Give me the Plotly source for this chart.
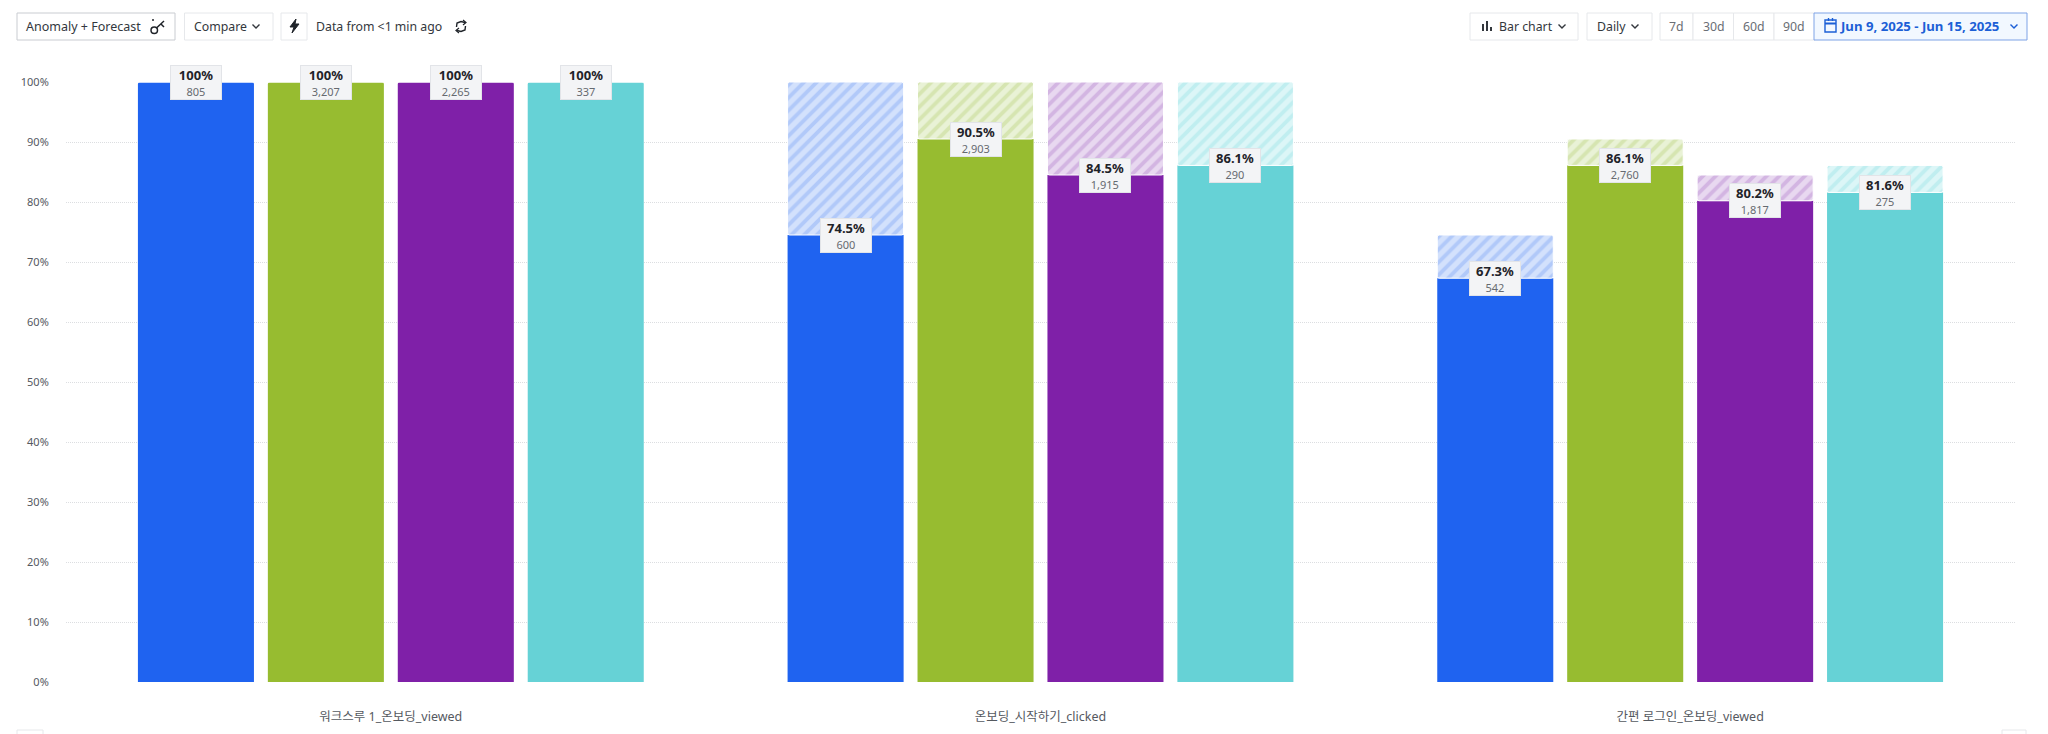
import plotly.graph_objects as go

# Funnel steps and the four compared segments
steps = ['워크스루 1_온보딩_viewed', '온보딩_시작하기_clicked', '간편 로그인_온보딩_viewed']
series_names = ['Segment 1', 'Segment 2', 'Segment 3', 'Segment 4']
pct_s1 = [100, 74.5, 67.3]
pct_s2 = [100, 90.5, 86.1]
pct_s3 = [100, 84.5, 80.2]
pct_s4 = [100, 86.1, 81.6]
cnt_s1 = [805, 600, 542]
cnt_s2 = [3207, 2903, 2760]
cnt_s3 = [2265, 1915, 1817]
cnt_s4 = [337, 290, 275]
y_ticks = [0, 10, 20, 30, 40, 50, 60, 70, 80, 90, 100]

pcts = [pct_s1, pct_s2, pct_s3, pct_s4]
cnts = [cnt_s1, cnt_s2, cnt_s3, cnt_s4]
colors = ['#1f63f0', '#97bc30', '#7f20a8', '#66d2d6']
hatch_bg = ['#d3e1fc', '#e9f2d6', '#e8d8f0', '#dcf6f7']
hatch_fg = ['#b1c9f9', '#d6e5b1', '#d3b5e2', '#c0eef0']

FONT = 'Noto Sans, Noto Sans CJK KR, sans-serif'

# plot area in window pixels, used for the toolbar only
L, R, T, B = 66, 2015, 82, 682


def px(x):
    return (x - L) / (R - L)


def py(y):
    return (B - y) / (B - T)


def path(points, close=False):
    d = 'M' + ' L'.join(f'{px(x):.5f},{py(y):.5f}' for x, y in points)
    return d + (' Z' if close else '')


fig = go.Figure()

for s in range(4):
    prev = [pcts[s][0]] + pcts[s][:-1]
    fig.add_trace(go.Bar(
        x=[0, 1, 2], y=pcts[s], name=series_names[s], offsetgroup=str(s),
        marker=dict(color=colors[s], line=dict(width=0)),
        showlegend=False,
    ))
    fig.add_trace(go.Bar(
        x=[0, 1, 2], y=[p - c for p, c in zip(prev, pcts[s])], base=pcts[s],
        name=series_names[s] + ' drop-off', offsetgroup=str(s),
        marker=dict(color=hatch_bg[s], line=dict(width=1, color='#ffffff'),
                    pattern=dict(shape='/', bgcolor=hatch_bg[s], fgcolor=hatch_fg[s],
                                 size=9, solidity=0.42, fillmode='replace')),
        showlegend=False,
    ))
    # value labels sitting on the top of each solid bar
    for g in range(3):
        pct = pcts[s][g]
        pct_text = f'{pct:g}%' if pct == 100 else f'{pct:.1f}%'
        fig.add_annotation(
            x=g + (s - 1.5) * 0.2, y=pct, xref='x', yref='y', showarrow=False,
            text=f"<b>{pct_text}</b><br><span style='font-size:11px;color:#666a70'>{cnts[s][g]:,}</span>",
            font=dict(family=FONT, size=13, color='#1f2329'),
            bgcolor='#f3f4f6', bordercolor='#e2e4e8', borderwidth=1,
            width=50, height=33, borderpad=0, align='center', valign='middle',
        )

shapes = []
notes = []


def button(x0, x1, fill='#ffffff', line='#e6e8eb', y0=13, y1=40):
    shapes.append(dict(
        type='rect', xref='paper', yref='paper', x0=px(x0), x1=px(x1), y0=py(y1), y1=py(y0),
        fillcolor=fill, line=dict(color=line, width=1), layer='above',
    ))


def label(x, text, color='#33373d', size=12.3, weight=None, anchor='left', y=26.5):
    notes.append(dict(
        x=px(x), y=py(y), xref='paper', yref='paper', text=f'<b>{text}</b>' if weight else text,
        showarrow=False, xanchor=anchor, yanchor='middle',
        font=dict(family=FONT, size=size, color=color),
    ))


def stroke(points, color='#33373d', width=1.4, close=False, fill=None):
    shapes.append(dict(
        type='path', xref='paper', yref='paper', path=path(points, close),
        line=dict(color=color, width=width), fillcolor=fill, layer='above',
    ))


def chevron(x, y=26, color='#33373d'):
    stroke([(x - 3.5, y - 1.5), (x, y + 2), (x + 3.5, y - 1.5)], color=color)


# left side of the toolbar
button(17, 175, line='#c9ccd1')
label(24, 'Anomaly + Forecast', size=12.5)
shapes.append(dict(type='circle', xref='paper', yref='paper', x0=px(151), x1=px(157.5), y0=py(33.5), y1=py(27),
                   line=dict(color='#1f2329', width=1.5), layer='above'))
stroke([(156.5, 28), (164, 21)], color='#1f2329', width=1.5)
stroke([(161, 24), (164, 27)], color='#1f2329', width=1.5)
stroke([(152, 20), (154, 20)], color='#1f2329', width=1.5)

button(184.5, 273)
label(192, 'Compare')
chevron(256)

button(281, 307)
stroke([(296, 19), (290, 27), (294, 27), (292, 33), (299, 24), (295, 24)], color='#1f2329', width=1,
       close=True, fill='#1f2329')
label(314, 'Data from &lt;1 min ago')
stroke([(456.5, 27), (457, 23), (461, 21.5), (465, 22.5)], color='#1f2329')
stroke([(465.5, 26), (465, 30), (461, 31.5), (457, 30.5)], color='#1f2329')
stroke([(463, 20), (466, 22.5), (463, 25)], color='#1f2329', width=1.2)
stroke([(459, 28), (456, 30.5), (459, 33)], color='#1f2329', width=1.2)

# right side of the toolbar
button(1470, 1578)
for bx, top in [(1483, 24), (1487, 21), (1491, 27)]:
    stroke([(bx, top), (bx, 31)], width=2)
label(1497, 'Bar chart')
chevron(1562)
button(1587, 1652)
label(1595, 'Daily')
chevron(1635)

button(1660, 1693)
button(1693, 1733.5)
button(1733.5, 1774)
button(1774, 1815)
for cx, txt in [(1676.5, '7d'), (1713.5, '30d'), (1754, '60d'), (1794, '90d')]:
    label(cx, txt, color='#6a6e75', anchor='center')

button(1814, 2027, fill='#f2f8ff', line='#7ea3e6')
stroke([(1825, 20), (1836, 20), (1836, 32), (1825, 32)], color='#1c5fd6', close=True)
stroke([(1825, 23.5), (1836, 23.5)], color='#1c5fd6', width=2)
stroke([(1828.5, 18), (1828.5, 21)], color='#1c5fd6')
stroke([(1832.5, 18), (1832.5, 21)], color='#1c5fd6')
label(1838, 'Jun 9, 2025 - Jun 15, 2025', color='#1c5fd6', weight=True, size=13.2)
chevron(2014, color='#1c5fd6')

# tops of the controls cut off by the window edge
button(17, 43, y0=730, y1=745)
button(2002, 2026, y0=730, y1=745)

fig.update_layout(
    width=2048, height=734, autosize=False,
    margin=dict(l=L, r=2048 - R, t=T, b=734 - B),
    barmode='group', bargap=0.2, bargroupgap=0.107, barcornerradius=2,
    paper_bgcolor='#ffffff', plot_bgcolor='#ffffff',
    font=dict(family=FONT, size=11, color='#55595f'),
    shapes=shapes,
    annotations=list(fig.layout.annotations) + notes,
    showlegend=False,
)
fig.update_xaxes(
    range=[-0.5, 2.5], tickmode='array', tickvals=[0, 1, 2], ticktext=steps,
    showgrid=False, zeroline=False, showline=False, automargin=False,
    ticks='outside', ticklen=23, tickcolor='rgba(0,0,0,0)',
    tickfont=dict(family=FONT, size=12.5, color='#55595f'),
)
fig.update_yaxes(
    range=[0, 100], tickmode='array', tickvals=y_ticks, ticktext=[f'{v}%' for v in y_ticks],
    showgrid=True, gridcolor='#dcdee1', griddash='1px,1px', gridwidth=1, zeroline=False, showline=False,
    automargin=False, ticks='outside', ticklen=14, tickcolor='rgba(0,0,0,0)',
    tickfont=dict(family=FONT, size=11, color='#55595f'),
)

fig.write_html("out.html", config=dict(displayModeBar=False),
               post_script="document.body.style.margin='0';document.body.style.overflow='hidden';")
